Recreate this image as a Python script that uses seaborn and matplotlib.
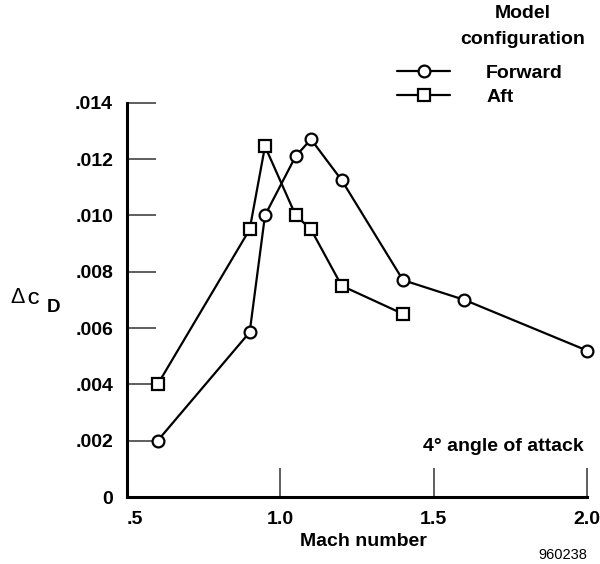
import matplotlib
matplotlib.use("Agg")
import matplotlib.pyplot as plt
import pandas as pd
import seaborn as sns

# Drag increment vs. Mach number for two model configurations
configs = ["Forward", "Aft"]
mach_forward = [0.6, 0.9, 0.95, 1.05, 1.1, 1.2, 1.4, 1.6, 2.0]
dcd_forward = [0.0020, 0.00585, 0.0100, 0.0121, 0.0127, 0.01125, 0.0077, 0.0070, 0.0052]
mach_aft = [0.6, 0.9, 0.95, 1.05, 1.1, 1.2, 1.4]
dcd_aft = [0.0040, 0.0095, 0.01245, 0.0100, 0.0095, 0.0075, 0.0065]

x_ticks = [0.5, 1.0, 1.5, 2.0]
x_tick_labels = [".5", "1.0", "1.5", "2.0"]
y_ticks = [0, 0.002, 0.004, 0.006, 0.008, 0.010, 0.012, 0.014]
y_tick_labels = ["0", ".002", ".004", ".006", ".008", ".010", ".012", ".014"]

df = pd.concat([
    pd.DataFrame({"Mach": mach_forward, "dCD": dcd_forward, "config": configs[0]}),
    pd.DataFrame({"Mach": mach_aft, "dCD": dcd_aft, "config": configs[1]}),
], ignore_index=True)

sns.set_style("white")
plt.rcParams["font.family"] = ["Liberation Sans", "DejaVu Sans"]
plt.rcParams["text.color"] = "black"
plt.rcParams["xtick.color"] = "black"
plt.rcParams["ytick.color"] = "black"

fig = plt.figure(figsize=(6.0, 5.64), dpi=100)
ax = fig.add_axes([127 / 600, 67 / 564, 460 / 600, 394.3 / 564])

sns.lineplot(
    data=df, x="Mach", y="dCD", style="config", style_order=configs,
    markers={"Forward": "o", "Aft": "s"}, dashes=False, color="black",
    estimator=None, sort=False, errorbar=None, legend=False, ax=ax,
    linewidth=1.6, markersize=8.5, markerfacecolor="white",
    markeredgecolor="black", markeredgewidth=1.6, clip_on=False, zorder=3,
)

ax.set_xlim(0.5, 2.0)
ax.set_ylim(0, 0.014)
ax.set_xticks(x_ticks)
ax.set_xticklabels(x_tick_labels)
ax.set_yticks(y_ticks)
ax.set_yticklabels(y_tick_labels)
ax.tick_params(axis="both", which="major", bottom=True, left=True,
               direction="in", length=21, width=1.1, color="#333333",
               labelcolor="black", pad=10, labelsize=14)
for lab in ax.get_xticklabels() + ax.get_yticklabels():
    lab.set_fontweight("bold")
ax.xaxis.get_major_ticks()[0].label1.set_horizontalalignment("left")

for side in ["top", "right"]:
    ax.spines[side].set_visible(False)
for side in ["left", "bottom"]:
    ax.spines[side].set_linewidth(2.2)
    ax.spines[side].set_color("black")

ax.set_xlabel("")
ax.set_ylabel("")
fig.text(363.7 / 600, 1 - 542 / 564, "Mach number", fontsize=14,
         fontweight="bold", ha="center", va="center")

# Axis quantity: delta C sub D
fig.text(10 / 600, 1 - 303 / 564, "\u0394", fontsize=15.5, ha="left",
         va="baseline")
fig.text(27.5 / 600, 1 - 304 / 564, "C", fontsize=11.5, fontweight="bold",
         ha="left", va="baseline")
fig.text(46.5 / 600, 1 - 312 / 564, "D", fontsize=13.5, fontweight="bold",
         ha="left", va="baseline")

fig.text(584 / 600, 1 - 446.5 / 564, "4\u00b0 angle of attack", fontsize=14,
         fontweight="bold", ha="right", va="center")
fig.text(587 / 600, 1 - 555 / 564, "960238", fontsize=10.5, ha="right",
         va="center")

# Legend
fig.text(523 / 600, 1 - 13 / 564, "Model", fontsize=14,
         fontweight="bold", ha="center", va="center")
fig.text(523 / 600, 1 - 40 / 564, "configuration", fontsize=14,
         fontweight="bold", ha="center", va="center")
by_marker = {ln.get_marker(): ln for ln in ax.get_lines()}
handles = [by_marker["o"], by_marker["s"]]
fig.legend(handles, configs, loc="upper left",
           bbox_to_anchor=(397 / 600, 1 - 64 / 564),
           bbox_transform=fig.transFigure, frameon=False, borderpad=0,
           borderaxespad=0, handlelength=2.73, handletextpad=1.85,
           labelspacing=0.36, prop={"size": 14, "weight": "bold"})

fig.savefig("out.png", dpi=100)
